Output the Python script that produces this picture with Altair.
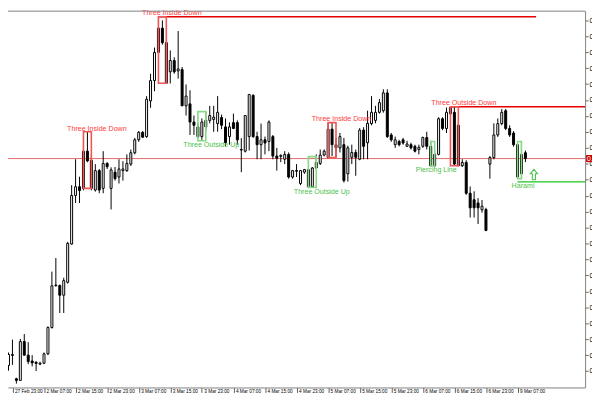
import altair as alt
import pandas as pd

# ---------------- candle data (hourly bars, index = bar number) ----------------
open_price = [
    0.80340, 0.80193, 0.80227, 0.80330, 0.80090, 0.80073, 0.80473, 0.80333, 0.80273, 0.80260,
    0.80240, 0.80250, 0.80347, 0.80617, 0.81047, 0.81050, 0.80950, 0.81083, 0.81477, 0.81977,
    0.82067, 0.82050, 0.82433, 0.82340, 0.82033, 0.82233, 0.82050, 0.82307, 0.82050, 0.82217,
    0.82167, 0.82233, 0.82233, 0.82300, 0.82417, 0.82550, 0.82627, 0.82583, 0.82950, 0.83160,
    0.83450, 0.83700, 0.83550, 0.83250, 0.83367, 0.83260, 0.83273, 0.82900, 0.82920, 0.82733,
    0.82683, 0.82583, 0.82683, 0.82750, 0.82760, 0.82717, 0.82780, 0.82683, 0.82583, 0.82727,
    0.82727, 0.82450, 0.82433, 0.82583, 0.83007, 0.82583, 0.82500, 0.82550, 0.82533, 0.82583,
    0.82383, 0.82380, 0.82350, 0.82400, 0.82167, 0.82233, 0.82100, 0.82217, 0.82243, 0.82067,
    0.82260, 0.82307, 0.82393, 0.82367, 0.82660, 0.82500, 0.82467, 0.82500, 0.82200, 0.82370,
    0.82420, 0.82350, 0.82650, 0.82520, 0.82717, 0.82750, 0.82833, 0.82850, 0.83033, 0.82600,
    0.82500, 0.82533, 0.82550, 0.82483, 0.82500, 0.82483, 0.82450, 0.82483, 0.82573, 0.82483,
    0.82283, 0.82400, 0.82767, 0.82667, 0.82817, 0.82833, 0.82700, 0.82283, 0.82317, 0.82000,
    0.81933, 0.81900, 0.81830, 0.81833, 0.82300, 0.82367, 0.82600, 0.82717, 0.82850, 0.82667,
    0.82620, 0.82500, 0.82200, 0.82417,
]
high_price = [
    0.80360, 0.80260, 0.80360, 0.80493, 0.80100, 0.80500, 0.80550, 0.80467, 0.80333, 0.80270,
    0.80265, 0.80360, 0.80630, 0.81193, 0.81333, 0.81060, 0.81130, 0.81500, 0.82083, 0.82350,
    0.82170, 0.82500, 0.82633, 0.82400, 0.82300, 0.82250, 0.82433, 0.82320, 0.82267, 0.82270,
    0.82350, 0.82330, 0.82400, 0.82450, 0.82570, 0.82640, 0.82640, 0.83000, 0.83230, 0.83500,
    0.83817, 0.83780, 0.83570, 0.83470, 0.83400, 0.83670, 0.83300, 0.83120, 0.83060, 0.82800,
    0.82720, 0.82770, 0.82840, 0.82900, 0.82900, 0.83000, 0.82810, 0.82770, 0.82730, 0.82820,
    0.82750, 0.82567, 0.82800, 0.83020, 0.83020, 0.82633, 0.82717, 0.82583, 0.82750, 0.82600,
    0.82467, 0.82400, 0.82433, 0.82420, 0.82240, 0.82300, 0.82240, 0.82250, 0.82250, 0.82270,
    0.82400, 0.82450, 0.82450, 0.82727, 0.82727, 0.82570, 0.82620, 0.82570, 0.82490, 0.82500,
    0.82450, 0.82670, 0.82680, 0.82850, 0.83000, 0.82900, 0.82970, 0.83070, 0.83070, 0.82620,
    0.82583, 0.82550, 0.82570, 0.82540, 0.82520, 0.82500, 0.82500, 0.82583, 0.82633, 0.82540,
    0.82433, 0.82783, 0.82783, 0.82883, 0.82890, 0.82890, 0.82720, 0.82350, 0.82340, 0.82070,
    0.82020, 0.81950, 0.81930, 0.81850, 0.82383, 0.82720, 0.82770, 0.82867, 0.82867, 0.82700,
    0.82640, 0.82533, 0.82533, 0.82440,
]
low_price = [
    0.80180, 0.80133, 0.80173, 0.80233, 0.80040, 0.80070, 0.80330, 0.80240, 0.80217, 0.80170,
    0.80230, 0.80240, 0.80333, 0.80607, 0.81040, 0.80767, 0.80767, 0.81070, 0.81470, 0.81900,
    0.81900, 0.82030, 0.82320, 0.82030, 0.82017, 0.82000, 0.82000, 0.82250, 0.81833, 0.82130,
    0.82100, 0.82130, 0.82220, 0.82280, 0.82400, 0.82530, 0.82570, 0.82570, 0.82880, 0.83050,
    0.83420, 0.83530, 0.83130, 0.83130, 0.83230, 0.83180, 0.82900, 0.82800, 0.82600, 0.82600,
    0.82570, 0.82550, 0.82640, 0.82720, 0.82633, 0.82633, 0.82660, 0.82483, 0.82500, 0.82660,
    0.82500, 0.82217, 0.82420, 0.82440, 0.82570, 0.82350, 0.82350, 0.82400, 0.82433, 0.82350,
    0.82233, 0.82320, 0.82300, 0.82150, 0.82150, 0.82167, 0.82083, 0.82200, 0.82060, 0.82060,
    0.82250, 0.82290, 0.82380, 0.82360, 0.82383, 0.82367, 0.82420, 0.82110, 0.82120, 0.82300,
    0.82180, 0.82340, 0.82350, 0.82350, 0.82700, 0.82720, 0.82820, 0.82830, 0.82570, 0.82530,
    0.82467, 0.82483, 0.82500, 0.82480, 0.82450, 0.82420, 0.82400, 0.82467, 0.82450, 0.82273,
    0.82267, 0.82390, 0.82650, 0.82620, 0.82800, 0.82290, 0.82283, 0.82270, 0.81983, 0.81750,
    0.81750, 0.81683, 0.81800, 0.81610, 0.82150, 0.82350, 0.82580, 0.82700, 0.82650, 0.82580,
    0.82480, 0.82150, 0.82150, 0.82320,
]
close_price = [
    0.80193, 0.80233, 0.80340, 0.80340, 0.80073, 0.80473, 0.80333, 0.80267, 0.80253, 0.80247,
    0.80250, 0.80347, 0.80617, 0.81047, 0.81055, 0.80950, 0.81100, 0.81483, 0.81977, 0.82067,
    0.82027, 0.82433, 0.82333, 0.82050, 0.82233, 0.82033, 0.82307, 0.82273, 0.82240, 0.82150,
    0.82250, 0.82250, 0.82307, 0.82417, 0.82550, 0.82627, 0.82577, 0.82967, 0.83160, 0.83450,
    0.83700, 0.83550, 0.83133, 0.83367, 0.83250, 0.83280, 0.82900, 0.83000, 0.82733, 0.82700,
    0.82583, 0.82733, 0.82750, 0.82800, 0.82783, 0.82833, 0.82700, 0.82520, 0.82683, 0.82667,
    0.82550, 0.82445, 0.82800, 0.83017, 0.82583, 0.82500, 0.82550, 0.82517, 0.82733, 0.82383,
    0.82360, 0.82390, 0.82400, 0.82167, 0.82233, 0.82227, 0.82233, 0.82243, 0.82067, 0.82260,
    0.82317, 0.82393, 0.82433, 0.82660, 0.82500, 0.82467, 0.82583, 0.82130, 0.82467, 0.82420,
    0.82370, 0.82650, 0.82483, 0.82720, 0.82833, 0.82833, 0.82933, 0.83033, 0.82583, 0.82550,
    0.82550, 0.82500, 0.82517, 0.82507, 0.82467, 0.82433, 0.82473, 0.82573, 0.82483, 0.82283,
    0.82400, 0.82767, 0.82667, 0.82833, 0.82883, 0.82300, 0.82283, 0.82317, 0.82000, 0.81850,
    0.81850, 0.81850, 0.81867, 0.81617, 0.82367, 0.82600, 0.82717, 0.82833, 0.82667, 0.82600,
    0.82500, 0.82167, 0.82400, 0.82357,
]

# ---------------- axis labels ----------------
time_tick_bars = [3, 11, 19, 27, 35, 43, 51, 59, 67, 75, 83, 91, 99, 107, 115, 123, 131]
time_tick_labels = ["27 Feb 23:00", "2 Mar 07:00", "2 Mar 15:00", "2 Mar 23:00", "3 Mar 07:00",
                    "3 Mar 15:00", "3 Mar 23:00", "4 Mar 07:00", "4 Mar 15:00", "4 Mar 23:00",
                    "5 Mar 07:00", "5 Mar 15:00", "5 Mar 23:00", "6 Mar 07:00", "6 Mar 15:00",
                    "6 Mar 23:00", "9 Mar 07:00"]
price_ticks = [0.80170, 0.80334, 0.80498, 0.80662, 0.80826, 0.80990, 0.81155, 0.81319,
               0.81483, 0.81647, 0.81811, 0.81975, 0.82139, 0.82303, 0.82467, 0.82631,
               0.82796, 0.82960, 0.83124, 0.83288, 0.83452, 0.83616, 0.83780]

# ---------------- candlestick pattern annotations ----------------
pattern_start = [21, 40, 50, 78, 83, 114, 109, 131]
pattern_end = [23, 42, 52, 80, 85, 116, 110, 132]
pattern_top = [0.82633, 0.83817, 0.82840, 0.82377, 0.82727, 0.82890, 0.82533, 0.82533]
pattern_bottom = [0.82050, 0.83133, 0.82540, 0.82060, 0.82367, 0.82283, 0.82280, 0.82150]
pattern_kind = ["bear", "bear", "bull", "bull", "bear", "bear", "bull", "bull"]

label_text = ["Three Inside Down", "Three Inside Down", "Three Outside Up", "Three Outside Up",
              "Three Inside Down", "Three Outside Down", "Piercing Line", "Harami"]
label_bar = [24.4, 43.4, 53.4, 81.4, 86.4, 117.4, 110.4, 132.4]
label_price = [0.82665, 0.83852, 0.82500, 0.82015, 0.82765, 0.82925, 0.82240, 0.82075]
label_kind = ["bear", "bear", "bull", "bull", "bear", "bear", "bull", "bull"]

level_start = [40, 114, 131]
level_end = [135.7, 148.2, 148.2]
level_price = [0.83817, 0.82890, 0.82117]
level_kind = ["bear", "bear", "bull"]

arrow_bar = [135.15]
arrow_price = [0.82193]

X_DOMAIN = [1.875, 148.125]
Y_DOMAIN = [0.8000, 0.8388]

RED_BOX = "#f25555"
RED_TEXT = "#ff3b3b"
RED_LINE = "#e60000"
GREEN_BOX = "#86d886"
GREEN_TEXT = "#4cc24c"
GREEN_LINE = "#1fc41f"

# ---------------- tables ----------------
candles = pd.DataFrame({
    "bar": list(range(len(open_price))),
    "open": open_price, "high": high_price, "low": low_price, "close": close_price,
})
patterns = pd.DataFrame({
    "start": pattern_start, "end": pattern_end, "top": pattern_top, "bottom": pattern_bottom,
    "color": [RED_BOX if k == "bear" else GREEN_BOX for k in pattern_kind],
})
labels = pd.DataFrame({
    "text": label_text, "bar": label_bar, "price": label_price,
    "color": [RED_TEXT if k == "bear" else GREEN_TEXT for k in label_kind],
})
levels = pd.DataFrame({
    "start": level_start, "end": level_end, "price": level_price,
    "color": [RED_LINE if k == "bear" else GREEN_LINE for k in level_kind],
})
arrows = pd.DataFrame({"bar": arrow_bar, "price": arrow_price})
last = close_price[-1]
last_df = pd.DataFrame({"price": [last], "hi": [last + 0.00037], "lo": [last - 0.00037],
                        "txt": [f"{last:.5f}"]})

xs = alt.Scale(domain=X_DOMAIN, nice=False, zero=False)
ys = alt.Scale(domain=Y_DOMAIN, nice=False, zero=False)

idx_js = "[" + ",".join(str(v) for v in time_tick_bars) + "]"
lab_js = "[" + ",".join("'%s'" % s for s in time_tick_labels) + "]"

x_axis = alt.Axis(values=time_tick_bars, labelExpr=f"{lab_js}[indexof({idx_js}, datum.value)]",
                  title=None, grid=False, domainColor="#808080", tickColor="#606060",
                  tickSize=5, labelAlign="left", labelBaseline="top", labelPadding=-4,
                  labelOffset=2, labelFontSize=4.8, labelFont="Liberation Sans",
                  labelColor="#000000", labelFlush=False, labelOverlap=False)
y_axis = alt.Axis(orient="right", values=price_ticks, format=".4f", title=None, grid=False,
                  domainColor="#808080", tickColor="#606060", tickSize=3, labelPadding=1,
                  labelFontSize=7, labelFont="Liberation Sans", labelColor="#000000",
                  labelFlush=False, labelOverlap=False)


def X(field):
    return alt.X(field, scale=xs, axis=x_axis)


def Y(field):
    return alt.Y(field, scale=ys, axis=y_axis)


price_line = alt.Chart(last_df).mark_rule(color="#e66a6a", strokeWidth=1).encode(y=Y("price:Q"))

level_lines = alt.Chart(levels).mark_rule(strokeWidth=1.5, clip=True).encode(
    x=X("start:Q"), x2="end:Q", y=Y("price:Q"), color=alt.Color("color:N", scale=None))

wicks = alt.Chart(candles).mark_rule(color="#000000", strokeWidth=1, clip=True).encode(
    x=X("bar:Q"), y=Y("low:Q"), y2="high:Q")

bodies = alt.Chart(candles).transform_calculate(
    left="datum.bar - 0.25", right="datum.bar + 0.25"
).mark_rect(stroke="#000000", strokeWidth=1, clip=True).encode(
    x=X("left:Q"), x2="right:Q", y=Y("open:Q"), y2="close:Q",
    fill=alt.condition("datum.close >= datum.open", alt.value("#ffffff"), alt.value("#000000")))

boxes = alt.Chart(patterns).mark_rect(filled=False, strokeWidth=1.6).encode(
    x=X("start:Q"), x2="end:Q", y=Y("top:Q"), y2="bottom:Q",
    color=alt.Color("color:N", scale=None))

texts = alt.Chart(labels).mark_text(font="Liberation Sans", fontSize=7.2, align="center",
                                    baseline="middle").encode(
    x=X("bar:Q"), y=Y("price:Q"), text="text:N", color=alt.Color("color:N", scale=None))

arrow_path = "M0,-1L0.7,-0.15L0.3,-0.15L0.3,1L-0.3,1L-0.3,-0.15L-0.7,-0.15Z"
arrow = alt.Chart(arrows).mark_point(shape=arrow_path, filled=False, size=110, strokeWidth=1.1,
                                     color=GREEN_TEXT, opacity=1).encode(
    x=X("bar:Q"), y=Y("price:Q"))

top_border = alt.Chart(last_df).mark_rule(color="#808080", strokeWidth=1).encode(
    x=alt.value(0), x2=alt.value(585), y=alt.value(0.5))

tag_box = alt.Chart(last_df).mark_rect(color="#cc0000").encode(
    x=alt.value(586), x2=alt.value(600), y=Y("hi:Q"), y2="lo:Q")
tag_text = alt.Chart(last_df).mark_text(align="left", baseline="middle", color="#ffffff",
                                        fontSize=7, font="Liberation Sans").encode(
    x=alt.value(587), y=Y("price:Q"), text="txt:N")

chart = alt.layer(
    price_line, level_lines, wicks, bodies, boxes, texts, arrow, top_border, tag_box, tag_text
).properties(
    width=585, height=382,
    autosize=alt.AutoSizeParams(type="none"),
    padding={"left": 0, "top": 0, "right": 7, "bottom": 10},
    background="#ffffff",
).configure_view(stroke=None)

chart.save("out.html", embed_options={"renderer": "svg", "actions": False})
